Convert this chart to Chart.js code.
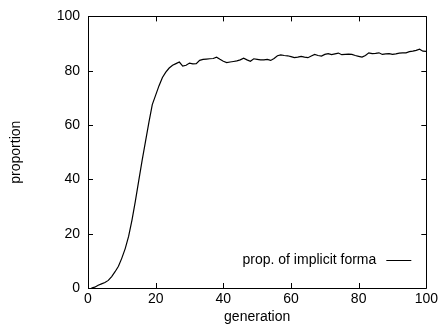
<!DOCTYPE html>
<html>
<head>
<meta charset="utf-8">
<script src="https://cdn.jsdelivr.net/npm/chart.js@4/dist/chart.umd.min.js"></script>
<style>
  html, body { margin: 0; padding: 0; background: #fff; }
  #wrap { width: 441px; height: 326px; }
</style>
</head>
<body>
<div id="wrap"><canvas id="chart" width="441" height="326"></canvas></div>
<script>
// data (generation 1..100)
const generations = [];
for (let g = 1; g <= 100; g++) generations.push(g);

const proportion = [
  0, 0.3, 1.0, 1.5, 2.0, 2.8, 4.2, 6.0, 8.0, 11,
  14.5, 19, 25, 32, 39.5, 47, 54, 61, 67.5, 71,
  74.5, 77.5, 79.5, 81, 82, 82.6, 83.2, 81.7, 82, 82.8,
  82.5, 82.6, 83.8, 84.2, 84.3, 84.4, 84.5, 85, 84.2, 83.5,
  83.0, 83.2, 83.4, 83.6, 84.0, 84.6, 84.0, 83.5, 84.4, 84.2,
  84.0, 84.0, 84.2, 83.8, 84.5, 85.5, 85.8, 85.6, 85.5, 85.2,
  84.8, 85.0, 85.3, 85.0, 84.8, 85.4, 86.0, 85.6, 85.4, 86.0,
  86.3, 85.9, 86.2, 86.5, 85.9, 86.0, 86.1, 86.0, 85.6, 85.3,
  85.0, 85.6, 86.6, 86.3, 86.4, 86.6, 86.0, 86.2, 86.3, 86.0,
  86.2, 86.5, 86.6, 86.6, 87.0, 87.2, 87.5, 87.9, 87.2, 87.1
];

const xTicks = [0, 20, 40, 60, 80, 100];
const yTicks = [0, 20, 40, 60, 80, 100];
const seriesLabel = 'prop. of implicit forma';

const FONT = '"Liberation Sans", Arial, Helvetica, sans-serif';

// gnuplot-like frame with inward ticks, plus legend inside the plot
const framePlugin = {
  id: 'frame',
  afterDraw(chart) {
    const ctx = chart.ctx;
    const a = chart.chartArea;
    const xs = chart.scales.x, ys = chart.scales.y;
    const len = 5;
    ctx.save();
    ctx.strokeStyle = '#000';
    ctx.lineWidth = 1;
    ctx.beginPath();
    ctx.rect(Math.round(a.left) + 0.5, Math.round(a.top) + 0.5,
      Math.round(a.right - a.left), Math.round(a.bottom - a.top));
    ctx.stroke();
    ctx.beginPath();
    xs.ticks.forEach(t => {
      const px = Math.round(xs.getPixelForValue(t.value)) + 0.5;
      ctx.moveTo(px, a.bottom); ctx.lineTo(px, a.bottom - len);
      ctx.moveTo(px, a.top); ctx.lineTo(px, a.top + len);
    });
    ys.ticks.forEach(t => {
      const py = Math.round(ys.getPixelForValue(t.value)) + 0.5;
      ctx.moveTo(a.left, py); ctx.lineTo(a.left + len, py);
      ctx.moveTo(a.right, py); ctx.lineTo(a.right - len, py);
    });
    ctx.stroke();

    // legend
    const lx2 = a.right - 15, lx1 = lx2 - 25;
    const ly = ys.getPixelForValue(10.2);
    ctx.beginPath();
    ctx.moveTo(lx1, Math.round(ly) + 0.5);
    ctx.lineTo(lx2, Math.round(ly) + 0.5);
    ctx.stroke();
    ctx.fillStyle = '#000';
    ctx.font = '14px ' + FONT;
    ctx.textAlign = 'right';
    ctx.textBaseline = 'middle';
    ctx.fillText(chart.data.datasets[0].label, lx1 - 10, ly);
    ctx.restore();
  }
};

new Chart(document.getElementById('chart'), {
  type: 'line',
  data: {
    labels: generations,
    datasets: [{
      label: seriesLabel,
      data: generations.map((g, i) => ({ x: g, y: proportion[i] })),
      borderColor: '#000',
      borderWidth: 1.2,
      pointRadius: 0,
      tension: 0,
      fill: false
    }]
  },
  options: {
    responsive: false,
    animation: false,
    layout: { padding: { top: 16, right: 12, left: 0, bottom: 0 } },
    plugins: {
      legend: { display: false },
      tooltip: { enabled: false }
    },
    scales: {
      x: {
        type: 'linear',
        min: 0, max: 100,
        afterBuildTicks: s => { s.ticks = xTicks.map(v => ({ value: v })); },
        afterFit: s => { s.height = 38; },
        grid: { display: false, drawTicks: false },
        border: { display: false },
        ticks: { color: '#000', font: { family: FONT, size: 14 }, padding: 3, maxRotation: 0 },
        title: {
          display: true, text: 'generation', color: '#000',
          font: { family: FONT, size: 14 }, padding: { top: -5, bottom: 0 }
        }
      },
      y: {
        min: 0, max: 100,
        afterBuildTicks: s => { s.ticks = yTicks.map(v => ({ value: v })); },
        afterFit: s => { s.width = 88; },
        grid: { display: false, drawTicks: false },
        border: { display: false },
        ticks: { color: '#000', font: { family: FONT, size: 14 }, padding: 8 },
        title: {
          display: true, text: 'proportion', color: '#000',
          font: { family: FONT, size: 14 }, padding: { top: 8, bottom: 0 }
        }
      }
    }
  },
  plugins: [framePlugin]
});
</script>
</body>
</html>
